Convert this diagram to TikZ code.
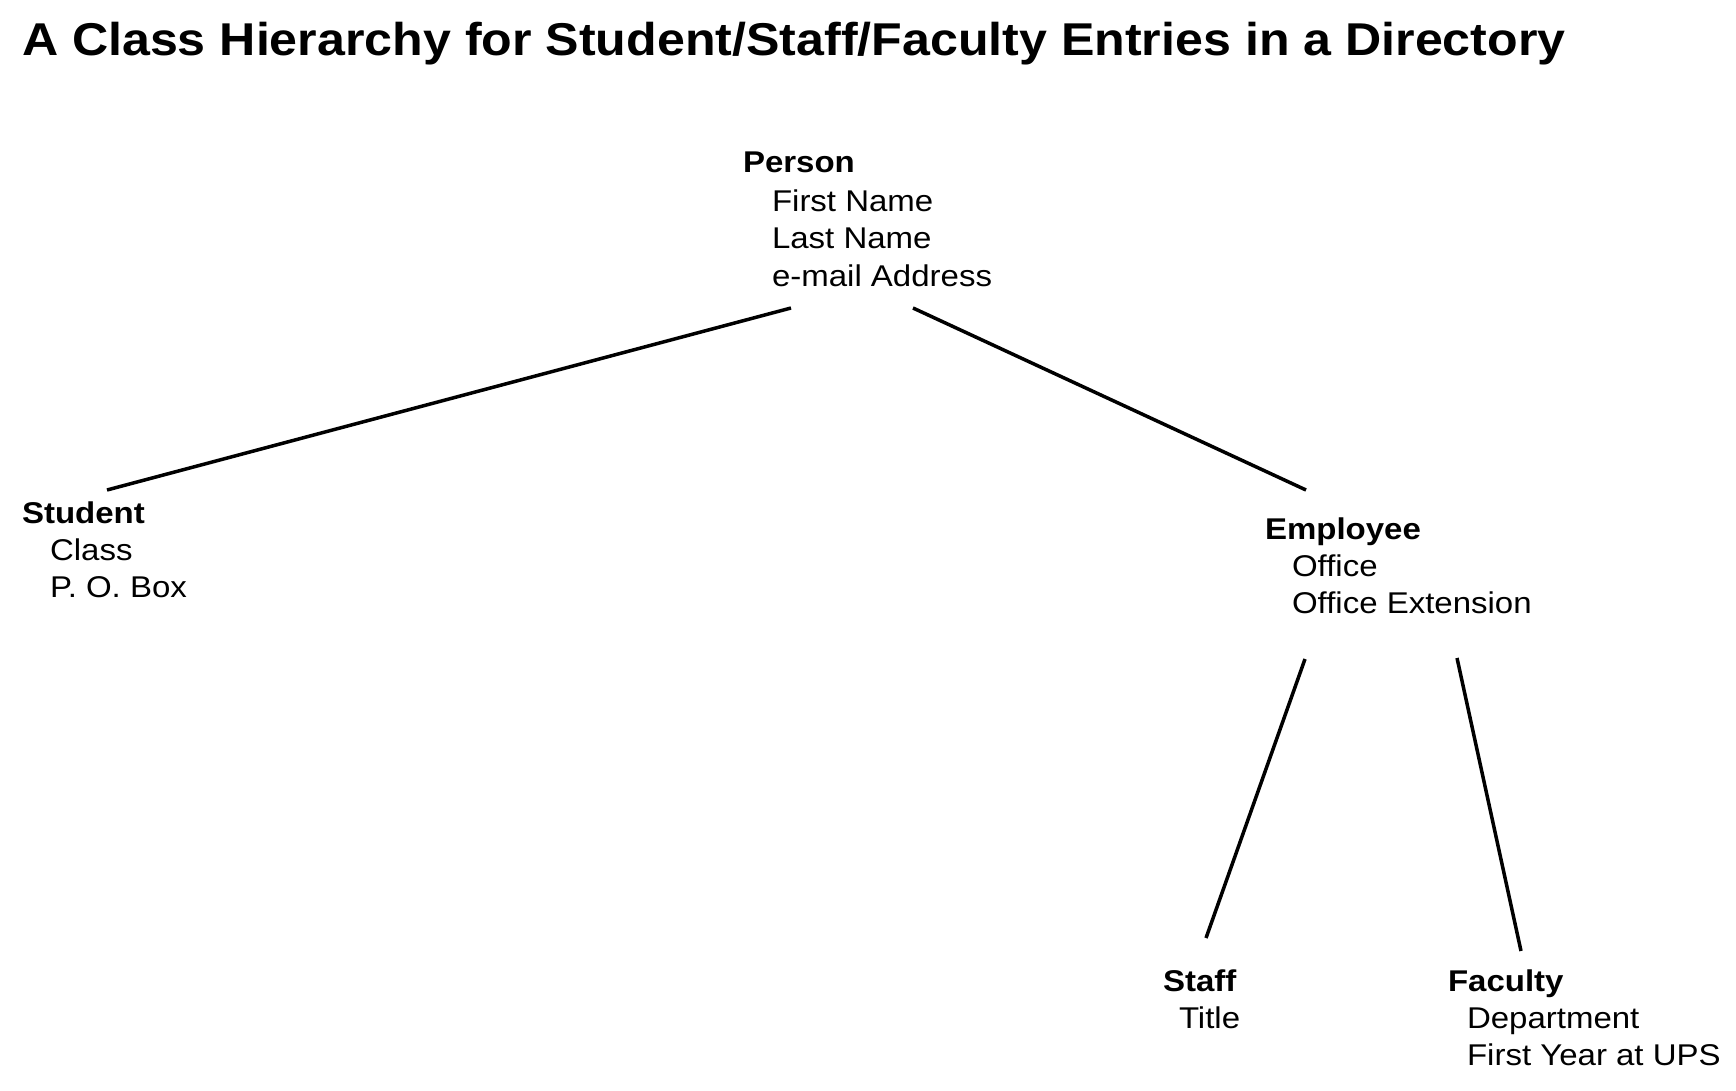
\documentclass[tikz,border=0pt]{standalone}
\usepackage{fontspec}
\setmainfont{Liberation Sans}
\newfontfamily\bodyfont[FakeStretch=1.10]{Liberation Sans}
\newfontfamily\titlefont[FakeStretch=1.09]{Liberation Sans}
\begin{document}
\begin{tikzpicture}[x=1pt,y=-1pt,
  every node/.style={inner sep=0pt,outer sep=0pt,anchor=base west},
  cls/.style={font=\bodyfont\fontsize{30}{37}\selectfont\bfseries},
  attr/.style={font=\bodyfont\fontsize{30}{37}\selectfont},
  ttl/.style={font=\titlefont\fontsize{46}{55}\selectfont\bfseries},
  link/.style={line width=3.5pt}]
\useasboundingbox (0,0) rectangle (1736,1091);
\node[ttl] (title) at (22,56) {A Class Hierarchy for Student/Staff/Faculty Entries in a Directory};
% Person
\node[cls] (person) at (743,173) {Person};
\node[attr] (p1) at (772,212) {First Name};
\node[attr] (p2) at (772,249) {Last Name};
\node[attr] (p3) at (772,286) {e-mail Address};
% Student
\node[cls] (student) at (22,523) {Student};
\node[attr] (s1) at (50,560) {Class};
\node[attr] (s2) at (50,597) {P. O. Box};
% Employee
\node[cls] (employee) at (1265,539) {Employee};
\node[attr] (e1) at (1292,576) {Office};
\node[attr] (e2) at (1292,613) {Office Extension};
% Staff
\node[cls] (staff) at (1163,991) {Staff};
\node[attr] (t1) at (1179,1028) {Title};
% Faculty
\node[cls] (faculty) at (1448,991) {Faculty};
\node[attr] (f1) at (1467,1028) {Department};
\node[attr] (f2) at (1467,1065) {First Year at UPS};
% connector ends
\coordinate (pS) at (791,308);
\coordinate (sP) at (107,490);
\coordinate (pE) at (913,308);
\coordinate (eP) at (1306,490);
\coordinate (eS) at (1305,659);
\coordinate (sE) at (1206,938);
\coordinate (eF) at (1457,658);
\coordinate (fE) at (1521,951);
\draw[link] (pS) -- (sP);
\draw[link] (pE) -- (eP);
\draw[link] (eS) -- (sE);
\draw[link] (eF) -- (fE);
\end{tikzpicture}
\end{document}
